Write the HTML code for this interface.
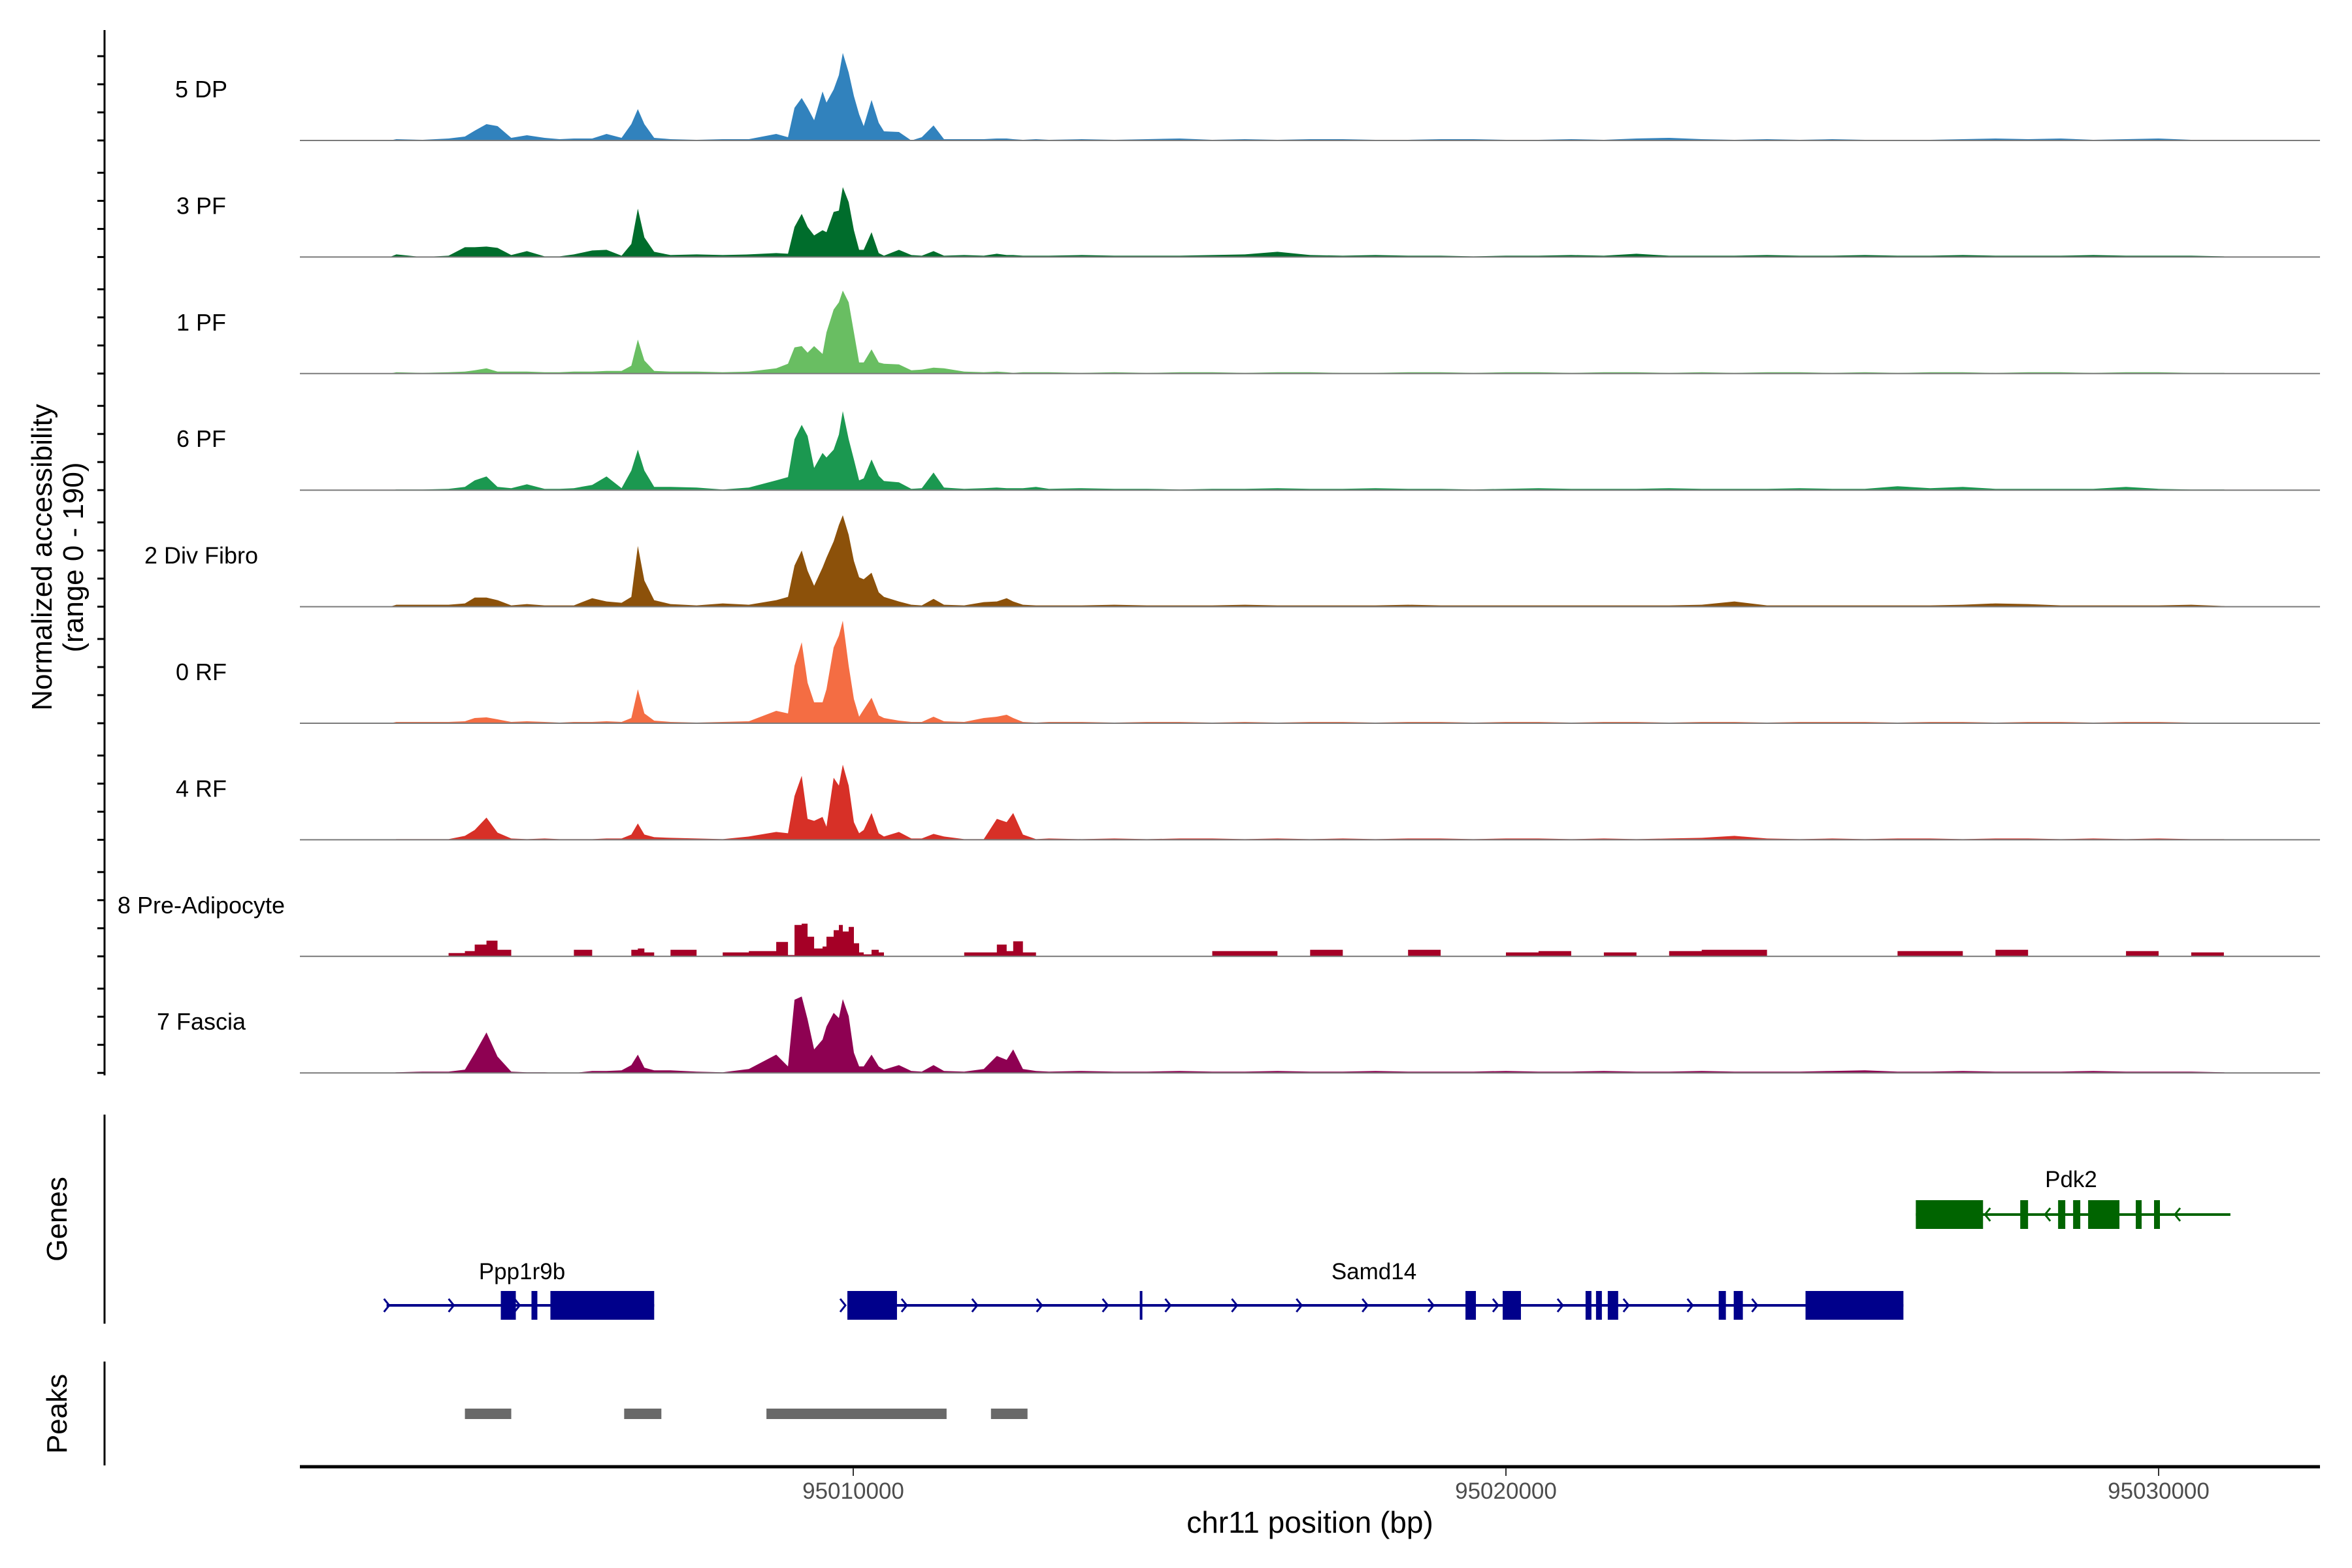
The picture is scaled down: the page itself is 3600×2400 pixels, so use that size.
<!DOCTYPE html>
<html><head><meta charset="utf-8"><style>
html,body{margin:0;padding:0;background:#fff}
svg{display:block}
text{font-family:"Liberation Sans",Arial,sans-serif}
</style></head><body>
<svg id="chart" xmlns="http://www.w3.org/2000/svg" width="3600" height="2400" viewBox="0 0 3600 2400">
<rect x="0" y="0" width="3600" height="2400" fill="#fff"/>
<g id="tracks"></g>
<line x1="160" y1="46" x2="160" y2="1646" stroke="#000" stroke-width="3"/>
<g id="yticks"></g>
<text transform="translate(79,853) rotate(-90)" text-anchor="middle" font-size="44" fill="#000">Normalized accessibility</text>
<text transform="translate(127,853) rotate(-90)" text-anchor="middle" font-size="44" fill="#000">(range 0 - 190)</text>
<line x1="160" y1="1706" x2="160" y2="2026" stroke="#000" stroke-width="3"/>
<text transform="translate(102,1866) rotate(-90)" text-anchor="middle" font-size="44" fill="#000">Genes</text>
<g id="genes"></g>
<line x1="160" y1="2084" x2="160" y2="2243" stroke="#000" stroke-width="3"/>
<text transform="translate(102,2164) rotate(-90)" text-anchor="middle" font-size="44" fill="#000">Peaks</text>
<g id="peaks"></g>
<line x1="459" y1="2245" x2="3551" y2="2245" stroke="#000" stroke-width="5"/>
<g id="xticks"></g>
<text x="2005" y="2346" text-anchor="middle" font-size="46" fill="#000">chr11 position (bp)</text>
</svg>
<script>
const NS="http://www.w3.org/2000/svg";
// shared genomic grid, kb offset from 95,000,000
const gridKb=[2.9,3.0,3.4,3.8,4.05,4.2,4.38,4.55,4.76,5.0,5.27,5.5,5.72,6.0,6.22,6.45,6.6,6.70,6.8,6.95,7.2,7.6,8.0,8.4,8.82,9.0,9.1,9.21,9.3,9.40,9.53,9.59,9.70,9.78,9.84,9.93,10.01,10.09,10.16,10.28,10.39,10.47,10.7,10.89,11.05,11.23,11.39,11.7,12.0,12.2,12.35,12.45,12.6,12.8,
13.0,13.5,14.0,14.5,15.0,15.5,16.0,16.5,17.0,17.5,18.0,18.5,19.0,19.5,20.0,20.5,21.0,21.5,22.0,22.5,23.0,23.5,24.0,24.5,25.0,25.5,26.0,26.5,27.0,27.5,28.0,28.5,29.0,29.5,30.0,30.5,31.0,31.06];
const trackNames=["5 DP","3 PF","1 PF","6 PF","2 Div Fibro","0 RF","4 RF","8 Pre-Adipocyte","7 Fascia"];
const trackColors=["#3182bd","#006d2c","#69be62","#1b9850","#8c510a","#f46d43","#d73027","#a50026","#8e0152"];
const trackStepped=[false,false,false,false,false,false,false,true,false];
const vals5DP=[0,2,1,3,6,15,25,22,4,8,4,2,3,3,10,4,25,48,25,4,2,1,2,2,10,5,50,65,50,31,75,58,78,100,134,104,68,40,22,62,27,14,13,0,5,23,2,2,2,3,3,2,1,2,
1,2,1,2,3,1,2,1,2,2,1,1,2,2,1,1,2,1,3,4,2,1,2,1,2,1,1,1,2,3,2,3,1,2,3,1,1,0];
const vals3PF=[0,4,0,2,15,15,16,14,3,9,1,1,4,10,11,2,20,74,30,8,3,4,3,4,6,5,46,66,46,33,41,38,69,71,107,84,41,11,11,38,6,2,11,3,2,9,2,3,2,5,3,3,2,2,
2,3,2,2,2,3,4,8,3,2,3,2,2,1,2,2,3,2,5,2,2,2,3,2,2,3,2,2,3,2,2,2,3,2,2,2,1,0];
const vals1PF=[0,2,1,2,3,5,8,3,3,3,2,2,3,3,4,4,12,52,20,4,3,3,2,3,8,15,40,42,32,42,30,63,98,109,127,109,63,17,17,37,17,15,14,5,6,9,8,3,2,3,2,1,2,2,
2,1,2,1,2,2,1,2,2,1,1,2,2,1,2,2,1,2,2,1,2,1,2,2,1,2,1,2,2,1,2,2,1,2,2,1,1,0];
const vals6PF=[0,1,1,2,5,15,21,5,3,9,2,2,3,8,21,3,30,62,30,5,5,4,1,4,15,20,78,100,83,34,57,50,62,85,121,78,47,15,18,47,22,14,12,2,3,27,4,2,3,4,3,3,3,5,
2,3,2,2,1,2,2,3,2,2,3,2,2,1,2,3,2,2,2,3,2,2,2,3,2,2,6,3,5,2,2,2,2,5,2,1,1,0];
const valsDivFibro=[0,3,3,3,5,14,14,10,2,4,2,2,2,13,8,6,15,93,40,10,4,2,5,3,10,15,63,86,55,32,60,75,100,125,140,110,70,45,42,52,22,15,8,3,2,12,3,2,7,8,13,8,3,2,
2,2,3,2,2,2,3,2,2,2,2,3,2,2,2,2,2,2,2,2,3,8,2,2,2,2,2,2,3,5,4,2,2,2,2,3,1,0];
const vals0RF=[0,2,2,2,3,8,9,6,2,3,2,1,2,2,3,2,8,52,15,4,2,1,2,3,19,15,88,124,62,32,32,52,116,134,157,88,37,10,21,39,12,8,4,2,2,10,3,2,8,10,13,8,2,1,
2,2,1,2,2,1,2,1,2,2,1,2,2,1,2,2,1,2,2,1,2,2,1,2,2,2,1,2,2,1,2,2,1,2,2,1,1,0];
const vals4RF=[0,1,1,1,6,15,34,11,2,1,2,1,1,1,2,2,8,25,8,4,3,2,1,5,12,10,67,98,32,29,35,20,95,83,115,83,27,10,15,41,10,5,12,2,2,9,5,1,1,32,27,41,8,1,
2,1,2,1,2,2,1,2,1,2,1,2,2,1,2,2,1,2,1,2,3,6,2,1,2,1,2,2,1,2,2,1,2,1,2,1,1,0];
const valsPreAdipo=[0,0,0,5,8,18,24,10,0,0,0,0,10,0,0,0,10,12,6,0,10,0,6,8,22,2,48,50,30,12,15,30,40,48,38,45,20,6,3,10,6,0,0,0,0,0,0,6,6,18,8,23,6,0,
0,0,0,0,0,8,8,0,10,0,0,10,0,0,6,8,0,6,0,8,10,10,0,0,0,0,8,8,0,10,0,0,0,8,0,6,0,0];
const valsFascia=[0,1,2,2,5,30,62,25,2,1,1,0,0,3,3,4,12,28,8,4,4,2,1,6,28,10,112,117,82,36,51,71,92,84,113,87,31,10,10,28,10,5,12,3,2,12,3,2,6,26,20,36,6,3,
2,3,2,2,3,2,2,3,2,2,3,2,2,2,3,2,2,3,2,2,3,2,2,2,3,4,2,2,3,2,2,2,3,2,2,2,1,0];
const trackValues=[vals5DP,vals3PF,vals1PF,vals6PF,valsDivFibro,vals0RF,vals4RF,valsPreAdipo,valsFascia];
const xTicks=[95010000,95020000,95030000];
const xTickLabels=["95010000","95020000","95030000"];
// gene models (kb offsets)
const ppp1r9bSpan=[2.85,6.95];
const ppp1r9bExons=[[4.60,4.83],[5.07,5.16],[5.36,6.95]];
const ppp1r9bArrows=[2.85,3.84,4.85];
const samd14Span=[9.91,26.09];
const samd14Exons=[[9.91,10.67],[14.39,14.43],[19.38,19.54],[19.95,20.23],[21.22,21.31],[21.38,21.47],[21.56,21.72],[23.26,23.37],[23.49,23.63],[24.59,26.09]];
const samd14Arrows=[9.84,10.78,11.86,12.85,13.86,14.82,15.84,16.83,17.84,18.85,19.84,20.83,21.84,22.82,23.81];
const pdk2Span=[26.28,31.10];
const pdk2Exons=[[26.28,27.31],[27.88,28.00],[28.46,28.57],[28.69,28.80],[28.92,29.40],[29.65,29.74],[29.93,30.02]];
const pdk2Arrows=[27.38,28.30,30.29];
const peakRegions=[[4.05,4.76],[6.49,7.06],[8.67,11.43],[12.11,12.67]];

const X0=1306, PX_PER_BP=0.0999, BASE_BP=95010000;
function xScale(bp){return X0+(bp-BASE_BP)*PX_PER_BP;}
function xKb(kb){return xScale(95000000+kb*1000);}
const TRACK0=215, PITCH=178.4, PX_PER_UNIT=1.0;
function yScale(i,v){return TRACK0+i*PITCH - v*PX_PER_UNIT;}
function mk(tag,attrs,parent){const e=document.createElementNS(NS,tag);for(const k in attrs)e.setAttribute(k,attrs[k]);parent.appendChild(e);return e;}

const tg=document.getElementById('tracks');
trackValues.forEach((vals,i)=>{
  const base=yScale(i,0);
  let d="M"+xKb(gridKb[0]).toFixed(1)+","+base;
  vals.forEach((v,j)=>{
    const y=yScale(i,v).toFixed(1);
    if(trackStepped[i]){
      const xa=xKb(gridKb[j]).toFixed(1);
      const xb=xKb(j+1<gridKb.length?gridKb[j+1]:gridKb[j]).toFixed(1);
      d+="L"+xa+","+y+"L"+xb+","+y;
    } else {
      d+="L"+xKb(gridKb[j]).toFixed(1)+","+y;
    }
  });
  d+="L"+xKb(gridKb[gridKb.length-1]).toFixed(1)+","+base+"Z";
  const p=mk('path',{d:d,fill:trackColors[i]},tg);
  
  
  const bl=mk('line',{x1:459,x2:3551,y1:base,y2:base,stroke:'#7a7a7a','stroke-width':2},tg);
  
  
  const t=mk('text',{x:308,y:base-66,'text-anchor':'middle','font-size':36,fill:'#000'},tg);
  t.textContent=trackNames[i];
  
  
});
const yt=document.getElementById('yticks');
for(let i=0;i<9;i++){for(let k=0;k<4;k++){const y=TRACK0+i*PITCH-k*43;
  const l=mk('line',{x1:149,x2:160,y1:y,y2:y,stroke:'#000','stroke-width':3},yt);
  
  }}
const xt=document.getElementById('xticks');
xTicks.forEach((bp,i)=>{const x=xScale(bp);
  const l=mk('line',{x1:x,x2:x,y1:2247,y2:2259,stroke:'#333','stroke-width':2},xt);
  
  
  const t=mk('text',{x:x,y:2294,'text-anchor':'middle','font-size':35,fill:'#4d4d4d'},xt);
  t.textContent=xTickLabels[i];
  
  
});
const gg=document.getElementById('genes');
function drawGene(name,span,exons,arrows,y,color,dir,labelX,labelY){
  const g=mk('g',{},gg);
  
  
  mk('line',{x1:xKb(span[0]),x2:xKb(span[1]),y1:y,y2:y,stroke:color,'stroke-width':4},g);
  exons.forEach(e=>{const r=mk('rect',{x:xKb(e[0]),y:y-22,width:Math.max(3,xKb(e[1])-xKb(e[0])),height:44,fill:color},g);
    
    });
  arrows.forEach(a=>{const x=xKb(a);const p=mk('path',{d:dir>0?`M${x-4},${y-10}L${x+4},${y}L${x-4},${y+10}`:`M${x+4},${y-10}L${x-4},${y}L${x+4},${y+10}`,fill:'none',stroke:color,'stroke-width':3},g);
    
    });
  const t=mk('text',{x:labelX,y:labelY,'text-anchor':'middle','font-size':35,fill:'#000'},g);
  t.textContent=name;
  
  
}
drawGene('Ppp1r9b',ppp1r9bSpan,ppp1r9bExons,ppp1r9bArrows,1998,'#00008b',1,799,1958);
drawGene('Samd14',samd14Span,samd14Exons,samd14Arrows,1998,'#00008b',1,2103,1958);
drawGene('Pdk2',pdk2Span,pdk2Exons,pdk2Arrows,1859,'#006400',-1,3170,1817);
const pg=document.getElementById('peaks');
peakRegions.forEach(r=>{const e=mk('rect',{x:xKb(r[0]),y:2156,width:xKb(r[1])-xKb(r[0]),height:16,fill:'#696969'},pg);
  
  });
</script>
</body></html>
